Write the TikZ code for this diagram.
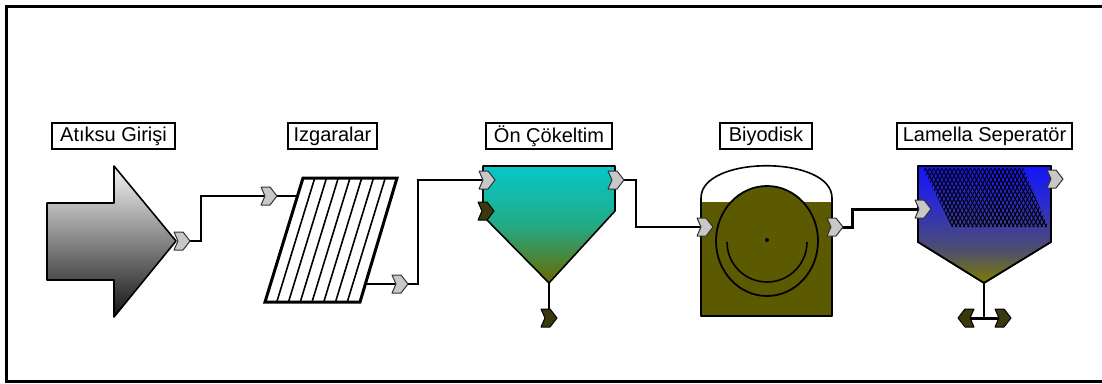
\documentclass[tikz,border=0pt]{standalone}
\usepackage{fontspec}
\setmainfont{Liberation Sans}
\usetikzlibrary{patterns.meta}

\definecolor{portgray}{RGB}{200,200,200}
\definecolor{portdark}{RGB}{58,56,14}
\definecolor{tankolive}{RGB}{92,90,0}
\definecolor{clarcyan}{RGB}{5,200,200}
\definecolor{clarmid}{RGB}{35,170,135}
\definecolor{clarolive}{RGB}{105,105,0}
\definecolor{lamblue}{RGB}{20,20,250}
\definecolor{lamblueb}{RGB}{45,45,200}
\definecolor{lamslate}{RGB}{78,78,110}
\definecolor{lamolive}{RGB}{125,125,0}

% blue settling zone fading into the olive sludge cone
\pgfdeclareverticalshading{lamshade}{100bp}{color(0bp)=(lamolive); color(25bp)=(lamolive);
  color(39bp)=(lamslate); color(58bp)=(lamblueb); color(75bp)=(lamblue); color(100bp)=(lamblue)}

\tikzset{
  tag/.style={draw, line width=1.2pt, fill=white, minimum height=26pt, inner sep=0pt,
    font=\fontsize{20}{22}\selectfont},
  pipe/.style={line width=1.5pt},
  heavypipe/.style={line width=3pt},
  unit/.style={draw, line width=1.6pt, line join=round},
  inport/.pic={\filldraw[fill=portgray, draw=black!80, line width=1pt, line join=round]
    (-8,-9) -- (1,-9) -- (8,0) -- (1,9) -- (-8,9) -- (-4,0) -- cycle;},
  darkport/.pic={\filldraw[fill=portdark, draw=black, line width=1pt, line join=round]
    (-8,-9) -- (1,-9) -- (8,0) -- (1,9) -- (-8,9) -- (-4,0) -- cycle;},
}

\begin{document}
\begin{tikzpicture}[x=1pt, y=-1pt]
\useasboundingbox (0,0) rectangle (1102,383);

% outer frame
\draw[line width=3pt] (1110,6) -- (6,6) -- (6,381) -- (1110,381);

% unit names
\node[tag, minimum width=123pt] (tagA) at (113.5,136) {Atıksu Girişi};
\node[tag, minimum width=89pt]  (tagB) at (332.5,136) {Izgaralar};
\node[tag, minimum width=126pt] (tagC) at (549,136)   {Ön Çökeltim};
\node[tag, minimum width=92pt]  (tagD) at (766,136)   {Biyodisk};
\node[tag, minimum width=175pt] (tagE) at (984.5,136) {Lamella Seperatör};

% influent arrow
\path[unit, top color=black!4, bottom color=black!92]
  (47,203) -- (114,203) -- (114,166) -- (176,241) -- (114,317) -- (114,280) -- (47,280) -- cycle;

% screens
\draw[line width=3pt, line join=miter] (303,178) -- (397,178) -- (360,302) -- (265,302) -- cycle;
\foreach \k in {1,...,7}
  \draw[line width=1.6pt] ({303+11.75*\k},178) -- ({265+11.75*\k},302);

% primary settling tank
\path[unit, top color=clarcyan, bottom color=clarolive, middle color=clarmid]
  (483,166) -- (615,166) -- (615,211) -- (549,283) -- (483,216) -- cycle;

% rotating biological contactor
\fill[white] (701,316) -- (701,198) .. controls (701,155) and (832,155) .. (832,198) -- (832,316) -- cycle;
\fill[tankolive] (701,202) rectangle (832,316);
\draw[unit] (701,316) -- (701,198) .. controls (701,155) and (832,155) .. (832,198) -- (832,316) -- cycle;
\filldraw[fill=tankolive, line width=1.8pt] (767,241) circle [x radius=51, y radius=55];
\draw[line width=1.6pt] (807,242) arc [start angle=0, end angle=180, radius=40];
\fill (767,240) circle [radius=2];

% lamella separator
\path[unit, shading=lamshade]
  (918,166) -- (1051,166) -- (1051,242) -- (984,283) -- (918,242) -- cycle;
\fill[pattern={Lines[angle=62, distance=3.6pt, line width=1pt]}, pattern color=black]
  (923,168) -- (1023,168) -- (1048,227) -- (952,227) -- cycle;
\fill[pattern={Lines[angle=118, distance=3.6pt, line width=1pt]}, pattern color=black]
  (923,168) -- (1023,168) -- (1048,227) -- (952,227) -- cycle;
\draw[unit] (918,166) -- (1051,166) -- (1051,242) -- (984,283) -- (918,242) -- cycle;

% port positions
\coordinate (aOut)  at (182,241);
\coordinate (bIn)   at (269,196);
\coordinate (bOut)  at (400,284);
\coordinate (cIn)   at (487,180);
\coordinate (cOut)  at (616,180);
\coordinate (cSide) at (486,211);
\coordinate (cBot)  at (549,318);
\coordinate (cTip)  at (549,283);
\coordinate (dIn)   at (705,227);
\coordinate (dOut)  at (835,227);
\coordinate (eIn)   at (923,209);
\coordinate (eOut)  at (1055,179);
\coordinate (eTip)  at (984,283);
\coordinate (eJoin) at (984,318);
\coordinate (eL)    at (966,318);
\coordinate (eR)    at (1003,318);
\coordinate (bInEdge)  at (298,196);
\coordinate (bOutEdge) at (365,284);

% piping
\draw[pipe] (aOut) -- ++(19,0) |- (bIn);
\draw[pipe] (bIn) -- (bInEdge);
\draw[pipe] (bOutEdge) -- (bOut) -- ++(18,0) |- (cIn);
\draw[pipe] (cOut) -- ++(20,0) |- (dIn);
\draw[heavypipe] (dOut) -- ++(17,0) |- (eIn);
\draw[pipe] (cTip) -- (cBot);
\draw[pipe] (eTip) -- (eJoin);
\draw[heavypipe] (eL) -- (eR);

% ports
\pic at (aOut)  {inport};
\pic at (bIn)   {inport};
\pic at (bOut)  {inport};
\pic at (cIn)   {inport};
\pic at (cOut)  {inport};
\pic at (dIn)   {inport};
\pic at (dOut)  {inport};
\pic at (eIn)   {inport};
\pic at (eOut)  {inport};
\pic at (cSide) {darkport};
\pic at (cBot)  {darkport};
\pic[rotate=180] at (eL) {darkport};
\pic at (eR)    {darkport};
\end{tikzpicture}
\end{document}
